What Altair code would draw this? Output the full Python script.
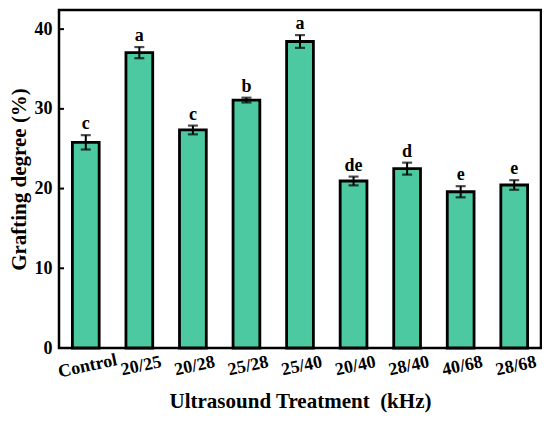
import altair as alt
import pandas as pd

treatments = ["Control", "20/25", "20/28", "25/28", "25/40", "20/40", "28/40", "40/68", "28/68"]
means = [25.8, 37.05, 27.35, 31.1, 38.45, 20.95, 22.5, 19.6, 20.45]
errors = [0.9, 0.7, 0.55, 0.3, 0.8, 0.55, 0.75, 0.7, 0.6]
letters = ["c", "a", "c", "b", "a", "de", "d", "e", "e"]
y_ticks = [0, 10, 20, 30, 40]

df = pd.DataFrame({
    "t": treatments,
    "m": means,
    "lo": [m - e for m, e in zip(means, errors)],
    "hi": [m + e for m, e in zip(means, errors)],
    "lab": letters,
})
ticks_df = pd.DataFrame({"v": y_ticks})

FONT = "Liberation Serif"

x = alt.X("t:N", sort=treatments,
          scale=alt.Scale(paddingInner=0.5, paddingOuter=0.25),
          axis=alt.Axis(title="Ultrasound Treatment \u00a0(kHz)", labelAngle=348,
                        labelAlign="center", labelBaseline="top", labelPadding=9,
                        ticks=False, domain=False, labelFontSize=18,
                        labelFont=FONT, titleFont=FONT, labelFontWeight="bold",
                        titleFontWeight="bold", labelColor="black", titleColor="black",
                        titleFontSize=21, titlePadding=10))
yscale = alt.Scale(domain=[0, 42.4], nice=False, zero=True)

base = alt.Chart(df)

bars = base.mark_bar(color="#4DC9A1", stroke="black", strokeWidth=2.8).encode(
    x=x,
    y=alt.Y("m:Q", scale=yscale,
            axis=alt.Axis(title="Grafting degree (%)", values=y_ticks, ticks=False,
                          domain=False, grid=False, labelFontSize=18, labelPadding=7,
                          labelFont=FONT, titleFont=FONT, labelFontWeight="bold",
                          titleFontWeight="bold", labelColor="black", titleColor="black",
                          titleFontSize=21, titlePadding=5)),
)

err = base.mark_rule(color="black", strokeWidth=2).encode(
    x=alt.X("t:N", sort=treatments), y=alt.Y("lo:Q", scale=yscale), y2="hi:Q"
)
cap_lo = base.mark_tick(color="black", size=10, thickness=2.2).encode(
    x=alt.X("t:N", sort=treatments), y=alt.Y("lo:Q", scale=yscale)
)
cap_hi = base.mark_tick(color="black", size=10, thickness=2.2).encode(
    x=alt.X("t:N", sort=treatments), y=alt.Y("hi:Q", scale=yscale)
)
txt = base.mark_text(font=FONT, fontWeight="bold", fontSize=18, baseline="bottom",
                     dy=-2, color="black").encode(
    x=alt.X("t:N", sort=treatments), y=alt.Y("hi:Q", scale=yscale), text="lab:N"
)
yt = alt.Chart(ticks_df).mark_rule(color="black", strokeWidth=2).encode(
    x=alt.value(0), x2=alt.value(5), y=alt.Y("v:Q", scale=yscale)
)

chart = alt.layer(bars, err, cap_lo, cap_hi, txt, yt).properties(
    width=482, height=338,
    autosize=alt.AutoSizeParams(type="none"),
    padding={"left": 51, "top": 2, "right": 1, "bottom": 65},
).configure_view(
    stroke="black", strokeWidth=2.5
)

chart.save("out.html", embed_options={"renderer": "svg", "actions": False})
